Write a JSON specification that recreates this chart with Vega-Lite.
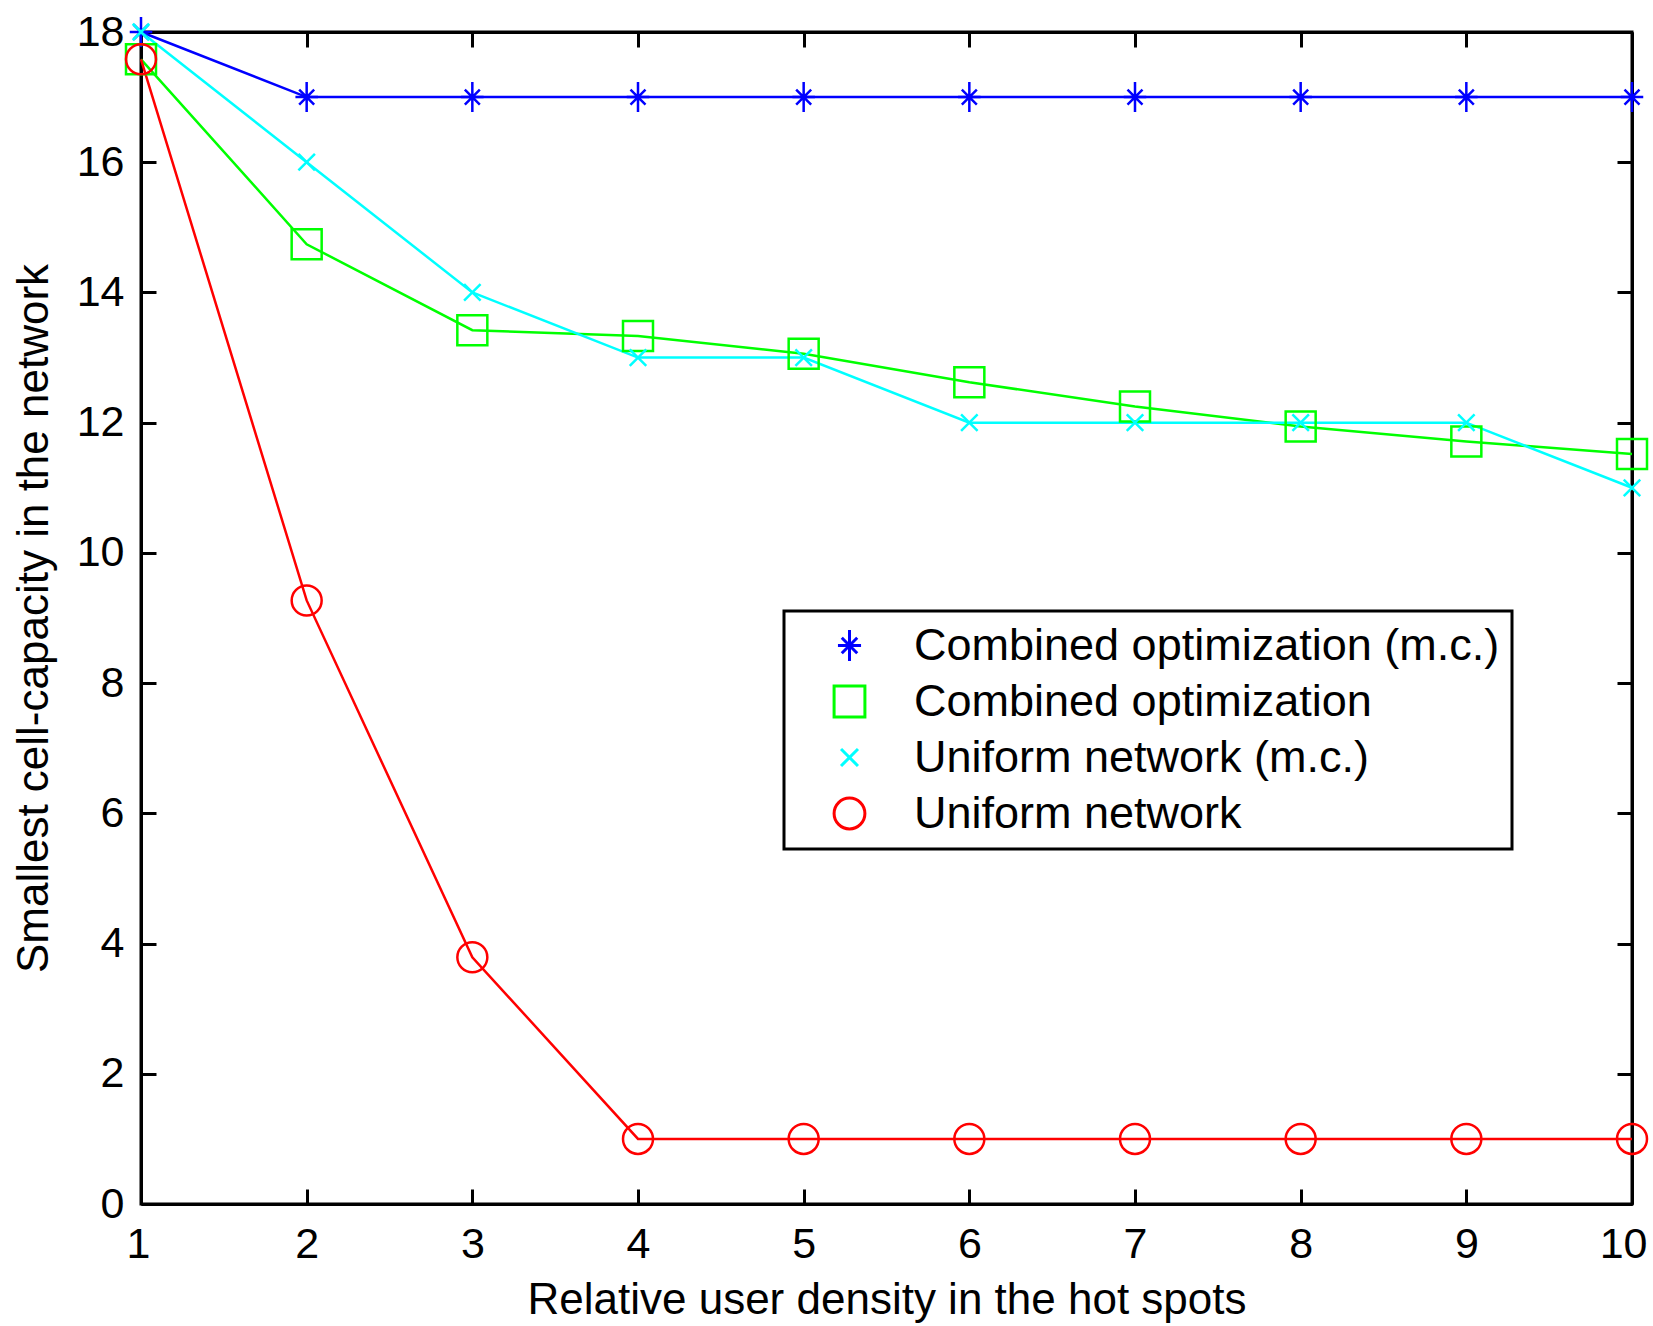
{
  "$schema": "https://vega.github.io/schema/vega-lite/v6.json",
  "autosize": {"type": "none"},
  "width": 1491,
  "height": 1172,
  "padding": {"left": 141, "top": 32, "right": 21, "bottom": 122},
  "background": "white",
  "config": {
    "view": {"stroke": "black", "strokeWidth": 3},
    "font": "Liberation Sans",
    "axis": {
      "labelFont": "Liberation Sans",
      "titleFont": "Liberation Sans",
      "labelFontSize": 43,
      "titleFontSize": 44,
      "titleFontWeight": "normal",
      "labelColor": "black",
      "titleColor": "black",
      "domainColor": "black",
      "domainWidth": 3,
      "tickColor": "black",
      "tickWidth": 3,
      "tickSize": -15,
      "grid": false,
      "labelFlush": false,
      "labelOverlap": false
    },
    "legend": {
      "labelFont": "Liberation Sans",
      "labelFontSize": 45,
      "labelColor": "black",
      "labelLimit": 0,
      "strokeWidth": 3,
      "symbolStrokeWidth": 3
    }
  },
  "data": {
    "values": [
      {"x": 1, "y": 18, "series": "Combined optimization (m.c.)"},
      {"x": 2, "y": 17, "series": "Combined optimization (m.c.)"},
      {"x": 3, "y": 17, "series": "Combined optimization (m.c.)"},
      {"x": 4, "y": 17, "series": "Combined optimization (m.c.)"},
      {"x": 5, "y": 17, "series": "Combined optimization (m.c.)"},
      {"x": 6, "y": 17, "series": "Combined optimization (m.c.)"},
      {"x": 7, "y": 17, "series": "Combined optimization (m.c.)"},
      {"x": 8, "y": 17, "series": "Combined optimization (m.c.)"},
      {"x": 9, "y": 17, "series": "Combined optimization (m.c.)"},
      {"x": 10, "y": 17, "series": "Combined optimization (m.c.)"},
      {"x": 1, "y": 17.58, "series": "Combined optimization"},
      {"x": 2, "y": 14.74, "series": "Combined optimization"},
      {"x": 3, "y": 13.42, "series": "Combined optimization"},
      {"x": 4, "y": 13.33, "series": "Combined optimization"},
      {"x": 5, "y": 13.06, "series": "Combined optimization"},
      {"x": 6, "y": 12.62, "series": "Combined optimization"},
      {"x": 7, "y": 12.25, "series": "Combined optimization"},
      {"x": 8, "y": 11.94, "series": "Combined optimization"},
      {"x": 9, "y": 11.71, "series": "Combined optimization"},
      {"x": 10, "y": 11.52, "series": "Combined optimization"},
      {"x": 1, "y": 18, "series": "Uniform network (m.c.)"},
      {"x": 2, "y": 16, "series": "Uniform network (m.c.)"},
      {"x": 3, "y": 14, "series": "Uniform network (m.c.)"},
      {"x": 4, "y": 13, "series": "Uniform network (m.c.)"},
      {"x": 5, "y": 13, "series": "Uniform network (m.c.)"},
      {"x": 6, "y": 12, "series": "Uniform network (m.c.)"},
      {"x": 7, "y": 12, "series": "Uniform network (m.c.)"},
      {"x": 8, "y": 12, "series": "Uniform network (m.c.)"},
      {"x": 9, "y": 12, "series": "Uniform network (m.c.)"},
      {"x": 10, "y": 11, "series": "Uniform network (m.c.)"},
      {"x": 1, "y": 17.58, "series": "Uniform network"},
      {"x": 2, "y": 9.27, "series": "Uniform network"},
      {"x": 3, "y": 3.79, "series": "Uniform network"},
      {"x": 4, "y": 1, "series": "Uniform network"},
      {"x": 5, "y": 1, "series": "Uniform network"},
      {"x": 6, "y": 1, "series": "Uniform network"},
      {"x": 7, "y": 1, "series": "Uniform network"},
      {"x": 8, "y": 1, "series": "Uniform network"},
      {"x": 9, "y": 1, "series": "Uniform network"},
      {"x": 10, "y": 1, "series": "Uniform network"}
    ]
  },
  "layer": [
    {
      "mark": {"type": "line", "strokeWidth": 2.5, "clip": false},
      "encoding": {
        "x": {"field": "x", "type": "quantitative", "scale": {"domain": [1, 10], "nice": false, "zero": false},
              "axis": {"orient": "top", "labels": false, "title": null, "values": [1,2,3,4,5,6,7,8,9,10]}},
        "y": {"field": "y", "type": "quantitative", "scale": {"domain": [0, 18], "nice": false},
              "axis": {"orient": "right", "labels": false, "title": null, "values": [0,2,4,6,8,10,12,14,16,18]}},
        "color": {"field": "series", "type": "nominal",
                  "scale": {"domain": ["Combined optimization (m.c.)", "Combined optimization", "Uniform network (m.c.)", "Uniform network"],
                            "range": ["#0000ff", "#00ff00", "#00ffff", "#ff0000"]}}
      }
    },
    {
      "mark": {"type": "point", "filled": false, "size": 900, "strokeWidth": 2.5, "opacity": 1, "clip": false},
      "encoding": {
        "x": {"field": "x", "type": "quantitative",
              "axis": {"orient": "bottom", "title": "Relative user density in the hot spots", "values": [1,2,3,4,5,6,7,8,9,10], "format": "d", "labelPadding": 34, "titlePadding": 12,
                       "labelFlush": true, "labelFlushOffset": 15}},
        "y": {"field": "y", "type": "quantitative",
              "axis": {"orient": "left", "title": "Smallest cell-capacity in the network", "values": [0,2,4,6,8,10,12,14,16,18], "format": "d", "labelPadding": 32, "titlePadding": 20}},
        "color": {"field": "series", "type": "nominal",
                  "legend": {
                    "title": null,
                    "orient": "none",
                    "legendX": 643,
                    "legendY": 579,
                    "padding": 12,
                    "strokeColor": "black",
                    "fillColor": "white",
                    "symbolSize": 950,
                    "symbolOffset": 31,
                    "labelOffset": 42,
                    "rowPadding": 10
                  }},
        "shape": {"field": "series", "type": "nominal",
                  "scale": {"domain": ["Combined optimization (m.c.)", "Combined optimization", "Uniform network (m.c.)", "Uniform network"],
                            "range": ["M0,-1V1M-0.75,0H0.75M-0.5,-0.5L0.5,0.5M-0.5,0.5L0.5,-0.5", "M-1,-1H1V1H-1Z", "M-0.55,-0.55L0.55,0.55M-0.55,0.55L0.55,-0.55", "circle"]},
                  "legend": null}
      }
    }
  ]
}
